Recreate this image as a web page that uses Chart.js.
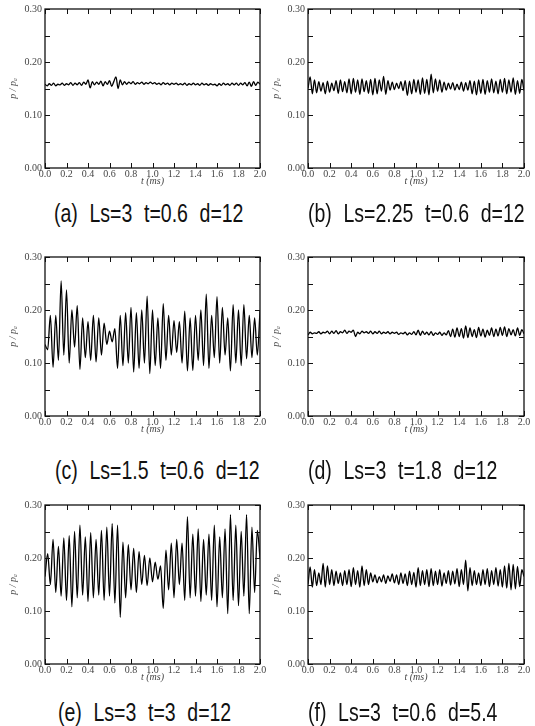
<!DOCTYPE html>
<html>
<head>
<meta charset="utf-8">
<script src="https://cdn.jsdelivr.net/npm/chart.js@4.4.1/dist/chart.umd.min.js"></script>
<style>
  body { margin: 0; background: #fff; width: 535px; height: 726px; position: relative; overflow: hidden; }
  canvas { position: absolute; }
  .cap {
    position: absolute;
    font-family: "Liberation Sans", Arial, sans-serif;
    font-size: 25px;
    line-height: 26px;
    color: #111;
    white-space: nowrap;
    word-spacing: 8px;
    transform: scaleX(0.78);
    transform-origin: left center;
  }
</style>
</head>
<body>
<canvas id="chartA" width="268" height="190" style="left:0;top:0"></canvas>
<canvas id="chartB" width="269" height="190" style="left:263px;top:0"></canvas>
<canvas id="chartC" width="268" height="190" style="left:0;top:248px"></canvas>
<canvas id="chartD" width="269" height="190" style="left:263px;top:248px"></canvas>
<canvas id="chartE" width="268" height="190" style="left:0;top:496px"></canvas>
<canvas id="chartF" width="269" height="190" style="left:263px;top:496px"></canvas>

<div class="cap" style="left:54px;top:200px">(a) Ls=3 t=0.6 d=12</div>
<div class="cap" style="left:308px;top:200px">(b) Ls=2.25 t=0.6 d=12</div>
<div class="cap" style="left:55px;top:457px">(c) Ls=1.5 t=0.6 d=12</div>
<div class="cap" style="left:308px;top:457px">(d) Ls=3 t=1.8 d=12</div>
<div class="cap" style="left:58px;top:699px">(e) Ls=3 t=3 d=12</div>
<div class="cap" style="left:308px;top:699px">(f) Ls=3 t=0.6 d=5.4</div>

<script>
// sample interval (ms)
const dtFine = 0.02;
const dtCoarse = 0.025;

const xTickLabels = ['0.0', '0.2', '0.4', '0.6', '0.8', '1.0', '1.2', '1.4', '1.6', '1.8', '2.0'];
const yTickLabels = ['0.00', '0.10', '0.20', '0.30'];

// (a) Ls=3 t=0.6 d=12
const pA = [
  0.158, 0.155, 0.159, 0.156, 0.160, 0.155, 0.158, 0.157, 0.160, 0.156,
  0.159, 0.157, 0.161, 0.156, 0.160, 0.157, 0.161, 0.156, 0.162, 0.158,
  0.166, 0.151, 0.163, 0.157, 0.162, 0.158, 0.164, 0.155, 0.163, 0.158,
  0.165, 0.154, 0.163, 0.172, 0.150, 0.166, 0.157, 0.163, 0.158, 0.162,
  0.159, 0.163, 0.158, 0.161, 0.159, 0.162, 0.158, 0.161, 0.159, 0.162,
  0.159, 0.161, 0.158, 0.160, 0.157, 0.161, 0.158, 0.160, 0.157, 0.160,
  0.158, 0.160, 0.157, 0.159, 0.157, 0.160, 0.156, 0.159, 0.157, 0.160,
  0.157, 0.159, 0.156, 0.160, 0.157, 0.159, 0.156, 0.159, 0.157, 0.158,
  0.155, 0.159, 0.156, 0.160, 0.157, 0.159, 0.156, 0.160, 0.157, 0.160,
  0.156, 0.160, 0.157, 0.161, 0.155, 0.162, 0.154, 0.163, 0.156, 0.162,
  0.158
];

// (b) Ls=2.25 t=0.6 d=12
const pB = [
  0.150, 0.172, 0.140, 0.166, 0.142, 0.163, 0.145, 0.161, 0.140, 0.164,
  0.143, 0.160, 0.146, 0.165, 0.141, 0.166, 0.144, 0.163, 0.142, 0.168,
  0.140, 0.169, 0.143, 0.166, 0.139, 0.168, 0.144, 0.165, 0.141, 0.167,
  0.138, 0.169, 0.140, 0.166, 0.145, 0.173, 0.139, 0.165, 0.147, 0.162,
  0.148, 0.160, 0.150, 0.163, 0.146, 0.165, 0.137, 0.164, 0.140, 0.167,
  0.143, 0.166, 0.139, 0.170, 0.141, 0.167, 0.138, 0.177, 0.142, 0.168,
  0.145, 0.166, 0.143, 0.162, 0.147, 0.160, 0.149, 0.161, 0.147, 0.158,
  0.148, 0.162, 0.145, 0.161, 0.147, 0.165, 0.140, 0.164, 0.138, 0.166,
  0.141, 0.167, 0.139, 0.165, 0.143, 0.168, 0.142, 0.164, 0.140, 0.167,
  0.143, 0.169, 0.140, 0.166, 0.143, 0.170, 0.139, 0.165, 0.141, 0.167,
  0.146
];

// (c) Ls=1.5 t=0.6 d=12
const pC = [
  0.135, 0.125, 0.190, 0.092, 0.190, 0.105, 0.255, 0.115, 0.238, 0.100,
  0.200, 0.130, 0.208, 0.088, 0.185, 0.110, 0.178, 0.105, 0.190, 0.102,
  0.185, 0.115, 0.175, 0.135, 0.160, 0.140, 0.165, 0.090, 0.190, 0.095,
  0.195, 0.100, 0.205, 0.083, 0.195, 0.090, 0.200, 0.100, 0.226, 0.080,
  0.200, 0.095, 0.185, 0.090, 0.212, 0.105, 0.190, 0.115, 0.180, 0.120,
  0.178, 0.100, 0.198, 0.085, 0.185, 0.086, 0.190, 0.105, 0.200, 0.095,
  0.230, 0.090, 0.190, 0.110, 0.225, 0.100, 0.205, 0.115, 0.185, 0.085,
  0.210, 0.100, 0.200, 0.095, 0.210, 0.108, 0.190, 0.110, 0.185, 0.115,
  0.198
];

// (d) Ls=3 t=1.8 d=12
const pD = [
  0.153, 0.158, 0.155, 0.157, 0.156, 0.159, 0.155, 0.158, 0.157, 0.160,
  0.155, 0.160, 0.156, 0.161, 0.155, 0.159, 0.157, 0.162, 0.156, 0.160,
  0.158, 0.162, 0.150, 0.158, 0.155, 0.160, 0.157, 0.159, 0.156, 0.160,
  0.155, 0.159, 0.156, 0.160, 0.155, 0.158, 0.156, 0.159, 0.155, 0.158,
  0.156, 0.158, 0.154, 0.157, 0.155, 0.158, 0.153, 0.157, 0.154, 0.159,
  0.153, 0.162, 0.152, 0.160, 0.154, 0.158, 0.153, 0.159, 0.152, 0.157,
  0.154, 0.158, 0.152, 0.157, 0.153, 0.161, 0.150, 0.164, 0.149, 0.166,
  0.150, 0.165, 0.147, 0.170, 0.148, 0.166, 0.150, 0.163, 0.148, 0.167,
  0.151, 0.164, 0.149, 0.162, 0.152, 0.166, 0.150, 0.164, 0.151, 0.167,
  0.152, 0.168, 0.150, 0.165, 0.153, 0.163, 0.151, 0.166, 0.152, 0.163,
  0.155
];

// (e) Ls=3 t=3 d=12
const pE = [
  0.165, 0.208, 0.150, 0.235, 0.135, 0.222, 0.128, 0.238, 0.120, 0.242,
  0.108, 0.250, 0.125, 0.262, 0.130, 0.240, 0.118, 0.248, 0.125, 0.235,
  0.130, 0.252, 0.120, 0.258, 0.128, 0.265, 0.115, 0.262, 0.088, 0.230,
  0.125, 0.225, 0.140, 0.218, 0.135, 0.212, 0.150, 0.205, 0.148, 0.200,
  0.155, 0.192, 0.160, 0.185, 0.105, 0.215, 0.140, 0.228, 0.125, 0.235,
  0.150, 0.228, 0.120, 0.278, 0.125, 0.245, 0.128, 0.255, 0.118, 0.235,
  0.130, 0.245, 0.120, 0.262, 0.108, 0.240, 0.125, 0.255, 0.095, 0.282,
  0.120, 0.262, 0.110, 0.250, 0.128, 0.282, 0.095, 0.258, 0.135, 0.252,
  0.200
];

// (f) Ls=3 t=0.6 d=5.4
const pF = [
  0.150, 0.183, 0.145, 0.178, 0.148, 0.172, 0.150, 0.190, 0.145, 0.185,
  0.150, 0.178, 0.148, 0.175, 0.152, 0.172, 0.148, 0.176, 0.150, 0.178,
  0.146, 0.182, 0.150, 0.176, 0.145, 0.185, 0.148, 0.178, 0.150, 0.172,
  0.155, 0.168, 0.153, 0.165, 0.155, 0.168, 0.152, 0.166, 0.156, 0.170,
  0.153, 0.168, 0.150, 0.172, 0.152, 0.170, 0.148, 0.175, 0.150, 0.173,
  0.145, 0.182, 0.148, 0.176, 0.150, 0.178, 0.146, 0.180, 0.148, 0.175,
  0.150, 0.178, 0.147, 0.172, 0.152, 0.176, 0.149, 0.175, 0.151, 0.180,
  0.146, 0.178, 0.150, 0.196, 0.138, 0.182, 0.148, 0.176, 0.150, 0.172,
  0.148, 0.178, 0.150, 0.180, 0.146, 0.176, 0.150, 0.182, 0.147, 0.178,
  0.145, 0.185, 0.143, 0.190, 0.140, 0.188, 0.142, 0.184, 0.146, 0.178,
  0.165
];

// marco del gráfico con marcas hacia dentro en los cuatro lados
const frameTicks = {
  id: 'frameTicks',
  afterDatasetsDraw(chart) {
    const { ctx, chartArea: a, scales: { x, y } } = chart;
    ctx.save();
    ctx.strokeStyle = '#111';
    ctx.lineWidth = 1;
    ctx.beginPath();
    x.ticks.forEach(t => {
      const px = Math.round(x.getPixelForValue(t.value)) + 0.5;
      ctx.moveTo(px, a.bottom); ctx.lineTo(px, a.bottom - 5);
      ctx.moveTo(px, a.top); ctx.lineTo(px, a.top + 5);
    });
    y.ticks.forEach(t => {
      const py = Math.round(y.getPixelForValue(t.value)) + 0.5;
      ctx.moveTo(a.left, py); ctx.lineTo(a.left + 5, py);
      ctx.moveTo(a.right, py); ctx.lineTo(a.right - 5, py);
    });
    ctx.stroke();
    ctx.lineWidth = 1.3;
    ctx.strokeRect(a.left, a.top, a.right - a.left, a.bottom - a.top);
    ctx.restore();
  }
};

function makeChart(id, values, dt) {
  const points = values.map((v, i) => ({ x: +(i * dt).toFixed(4), y: v }));
  return new Chart(document.getElementById(id), {
    type: 'line',
    data: {
      datasets: [{
        data: points,
        borderColor: '#000',
        borderWidth: 1.3,
        pointRadius: 0,
        cubicInterpolationMode: 'monotone',
        fill: false
      }]
    },
    options: {
      responsive: false,
      animation: false,
      layout: { padding: { left: 0, right: 8, top: 9, bottom: 0 } },
      plugins: { legend: { display: false }, tooltip: { enabled: false } },
      scales: {
        x: {
          type: 'linear',
          min: 0,
          max: 2,
          grid: { display: false, drawTicks: false },
          border: { display: false },
          ticks: {
            stepSize: 0.2,
            autoSkip: false,
            maxRotation: 0,
            padding: 0,
            color: '#444',
            font: { family: 'Liberation Serif', size: 10 },
            callback: v => {
              const s = v.toFixed(1);
              return xTickLabels.includes(s) ? s : '';
            }
          },
          title: {
            display: true,
            text: 't (ms)',
            color: '#444',
            font: { family: 'Liberation Serif', size: 10, style: 'italic' },
            padding: { top: 0, bottom: 3 }
          },
          afterFit: s => { s.height = 22; }
        },
        y: {
          min: 0,
          max: 0.3,
          grid: { display: false, drawTicks: false },
          border: { display: false },
          ticks: {
            stepSize: 0.05,
            autoSkip: false,
            padding: 3,
            color: '#444',
            font: { family: 'Liberation Serif', size: 10 },
            callback: v => {
              const s = v.toFixed(2);
              return yTickLabels.includes(s) ? s : '';
            }
          },
          title: {
            display: true,
            text: 'p / pₐ',
            color: '#555',
            font: { family: 'Liberation Serif', size: 10, style: 'italic' },
            padding: { top: 7, bottom: 0 }
          },
          afterFit: s => { s.width = 45; }
        }
      }
    },
    plugins: [frameTicks]
  });
}

makeChart('chartA', pA, dtFine);
makeChart('chartB', pB, dtFine);
makeChart('chartC', pC, dtCoarse);
makeChart('chartD', pD, dtFine);
makeChart('chartE', pE, dtCoarse);
makeChart('chartF', pF, dtFine);
</script>
</body>
</html>
